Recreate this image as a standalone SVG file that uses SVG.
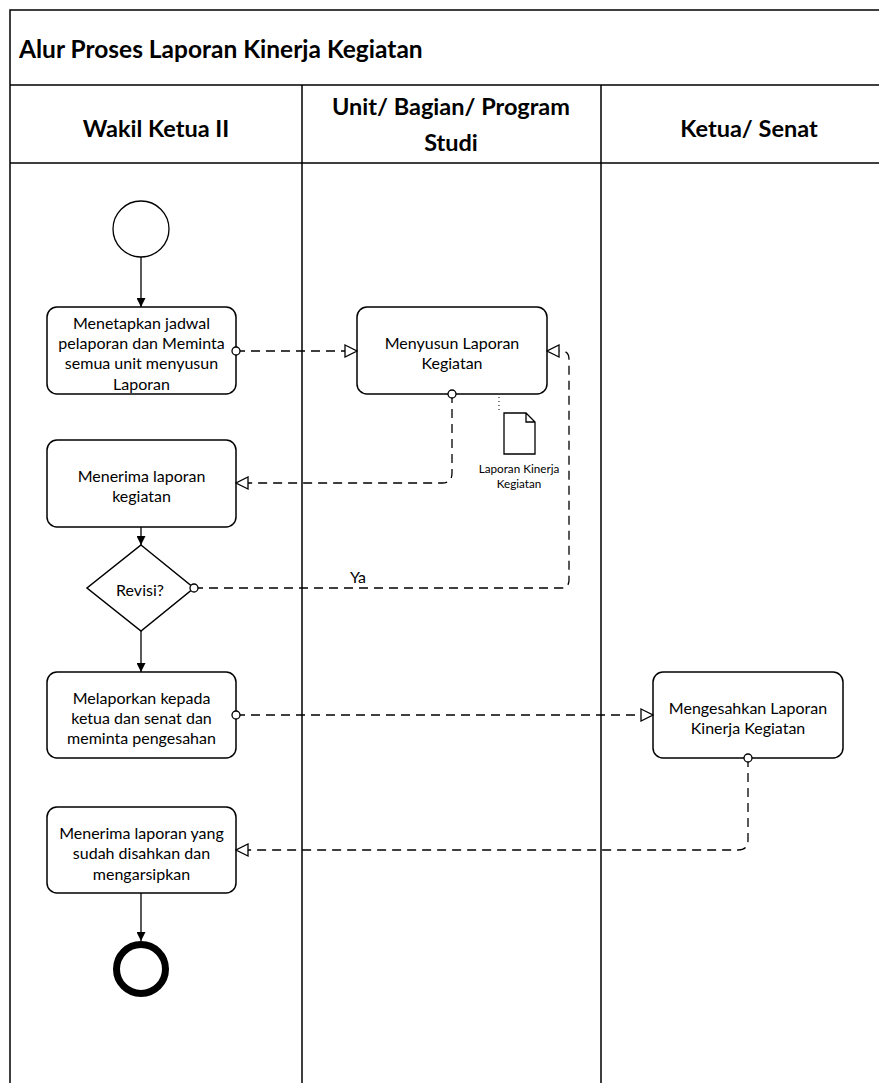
<svg xmlns="http://www.w3.org/2000/svg" width="879" height="1083" viewBox="0 0 879 1083">
<style>
  .lane { fill: none; stroke: #000; stroke-width: 1.5; }
  .title { font-family: Lato, "Liberation Sans", sans-serif; font-size: 24.5px; font-weight: bold; fill: #000; }
  .head { font-family: Lato, "Liberation Sans", sans-serif; font-size: 23.5px; font-weight: bold; fill: #000; text-anchor: middle; dominant-baseline: central; }
  .task { fill: #fff; stroke: #000; stroke-width: 1.5; }
  .txt { font-family: Lato, "Liberation Sans", sans-serif; font-size: 16px; fill: #000; text-anchor: middle; dominant-baseline: central; }
  .small { font-family: Lato, "Liberation Sans", sans-serif; font-size: 11.7px; fill: #000; text-anchor: middle; dominant-baseline: central; }
  .seq { fill: none; stroke: #000; stroke-width: 1.3; marker-end: url(#arrowSolid); }
  .msg { fill: none; stroke: #000; stroke-width: 1.3; stroke-dasharray: 9 6; marker-start: url(#dot); marker-end: url(#arrowOpen); }
  .assoc { fill: none; stroke: #000; stroke-width: 1; stroke-dasharray: 1 3; }
</style>
<defs>
  <marker id="arrowSolid" viewBox="0 0 10 10" refX="10" refY="5" markerWidth="10" markerHeight="9" markerUnits="userSpaceOnUse" orient="auto">
    <path d="M0,0 L10,5 L0,10 z" fill="#000"/>
  </marker>
  <marker id="arrowOpen" viewBox="-1 -1 14 14" refX="12" refY="6" markerWidth="14" markerHeight="14" markerUnits="userSpaceOnUse" orient="auto">
    <path d="M0,0 L12,6 L0,12 z" fill="#fff" stroke="#000" stroke-width="1.3"/>
  </marker>
  <marker id="dot" viewBox="-5 -5 10 10" refX="0" refY="0" markerWidth="10" markerHeight="10" markerUnits="userSpaceOnUse" orient="auto">
    <circle cx="0" cy="0" r="4" fill="#fff" stroke="#000" stroke-width="1.3"/>
  </marker>
</defs>
<rect width="879" height="1083" fill="#fff"/>

<g id="pool">
  <path class="lane" d="M10,1083 V10 H879 M10,85 H879 M10,163 H879 M302,85 V1083 M601,85 V1083"/>
  <text class="title" x="19" y="58">Alur Proses Laporan Kinerja Kegiatan</text>
  <text class="head" x="156" y="128">Wakil Ketua II</text>
  <text class="head" x="451" y="106">Unit/ Bagian/ Program</text>
  <text class="head" x="451" y="142">Studi</text>
  <text class="head" x="749" y="128">Ketua/ Senat</text>
</g>

<g id="start">
  <circle cx="141" cy="229" r="28" fill="#fff" stroke="#000" stroke-width="1.3"/>
</g>

<g id="task-menetapkan">
  <rect class="task" x="47" y="307" width="189" height="87" rx="10"/>
  <text class="txt" x="141.5" y="322">Menetapkan jadwal</text>
  <text class="txt" x="141.5" y="342">pelaporan dan Meminta</text>
  <text class="txt" x="141.5" y="362">semua unit menyusun</text>
  <text class="txt" x="141.5" y="383">Laporan</text>
</g>

<g id="task-menyusun">
  <rect class="task" x="357" y="307" width="190" height="87" rx="10"/>
  <text class="txt" x="452" y="342">Menyusun Laporan</text>
  <text class="txt" x="452" y="362">Kegiatan</text>
</g>

<g id="doc-laporan">
  <path d="M504,413 H526 L535,422 V454 H504 Z M526,413 V422 H535" fill="#fff" stroke="#000" stroke-width="1.3"/>
  <text class="small" x="519" y="468">Laporan Kinerja</text>
  <text class="small" x="519" y="483">Kegiatan</text>
</g>

<g id="task-menerima">
  <rect class="task" x="47" y="440" width="189" height="87" rx="10"/>
  <text class="txt" x="141.5" y="475">Menerima laporan</text>
  <text class="txt" x="141.5" y="495">kegiatan</text>
</g>

<g id="gateway-revisi">
  <path d="M141,545 L194,588 L141,631 L87,588 Z" fill="#fff" stroke="#000" stroke-width="1.5"/>
  <text class="txt" x="140" y="589">Revisi?</text>
</g>

<g id="task-melaporkan">
  <rect class="task" x="47" y="672" width="189" height="86" rx="10"/>
  <text class="txt" x="141.5" y="697">Melaporkan kepada</text>
  <text class="txt" x="141.5" y="717">ketua dan senat dan</text>
  <text class="txt" x="141.5" y="737">meminta pengesahan</text>
</g>

<g id="task-mengesahkan">
  <rect class="task" x="653" y="672" width="190" height="86" rx="10"/>
  <text class="txt" x="748" y="707">Mengesahkan Laporan</text>
  <text class="txt" x="748" y="727">Kinerja Kegiatan</text>
</g>

<g id="task-arsip">
  <rect class="task" x="47" y="807" width="189" height="86" rx="10"/>
  <text class="txt" x="141.5" y="832">Menerima laporan yang</text>
  <text class="txt" x="141.5" y="852">sudah disahkan dan</text>
  <text class="txt" x="141.5" y="873">mengarsipkan</text>
</g>

<g id="end">
  <circle cx="141" cy="969" r="24.5" fill="#fff" stroke="#000" stroke-width="7"/>
</g>

<g id="connectors">
  <path class="seq" d="M141,257 V307"/>
  <path class="msg" d="M236,351 H357"/>
  <path class="msg" d="M452,394 V473 Q452,483 442,483 H236"/>
  <path class="assoc" d="M499,397 V411"/>
  <path class="seq" d="M141,527 V545"/>
  <path class="msg" d="M194,588 H561 Q569,588 569,580 V359 Q569,351 561,351 H547"/>
  <path class="seq" d="M141,631 V672"/>
  <path class="msg" d="M236,715 H653"/>
  <path class="msg" d="M748,758 V840 Q748,850 738,850 H236"/>
  <path class="seq" d="M141,893 V941"/>
  <text class="txt" x="358" y="576">Ya</text>
</g>
</svg>
